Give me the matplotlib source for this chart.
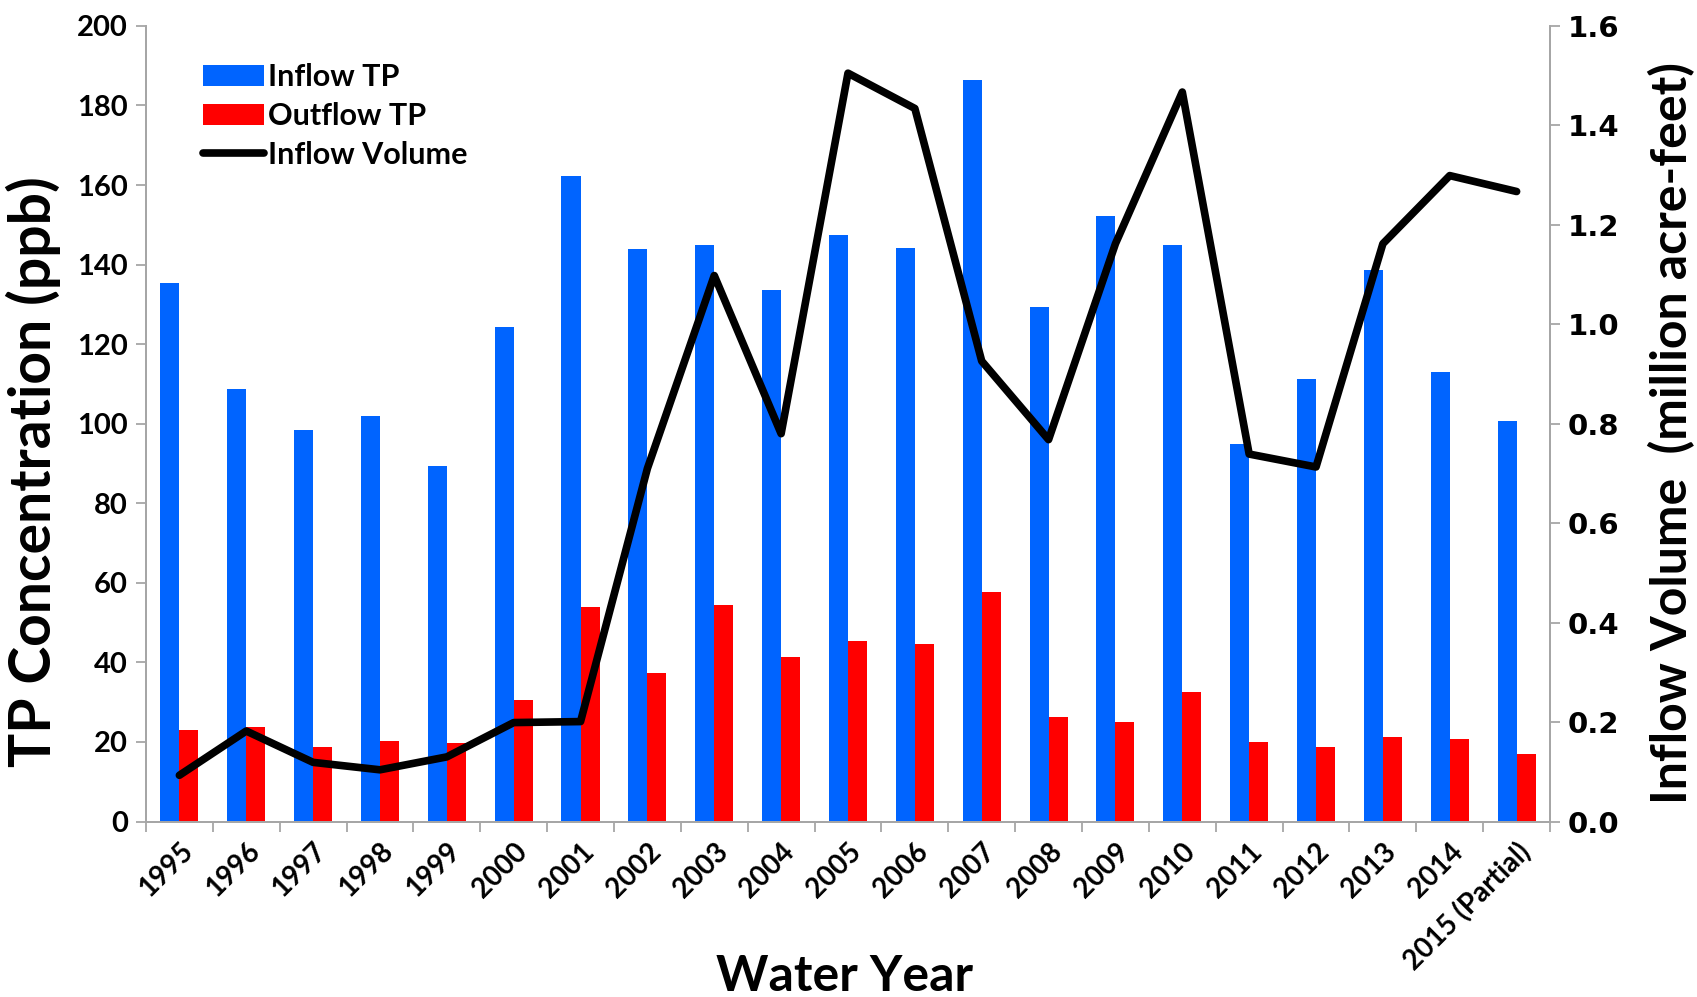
import matplotlib.pyplot as plt
import numpy as np

years = ['1995', '1996', '1997', '1998', '1999', '2000', '2001', '2002', '2003',
         '2004', '2005', '2006', '2007', '2008', '2009', '2010', '2011', '2012',
         '2013', '2014', '2015 (Partial)']
inflow_tp = [135.5, 108.7, 98.3, 101.9, 89.4, 124.2, 162.2, 143.9, 145.0, 133.5,
             147.5, 144.2, 186.3, 129.4, 152.1, 145.0, 94.8, 111.3, 138.6, 113.0, 100.8]
outflow_tp = [23.1, 23.7, 18.8, 20.2, 19.8, 30.6, 53.9, 37.3, 54.5, 41.4,
              45.3, 44.6, 57.8, 26.2, 25.1, 32.6, 19.9, 18.7, 21.2, 20.8, 17.0]
inflow_volume = [0.093, 0.182, 0.119, 0.104, 0.130, 0.199, 0.201, 0.710, 1.098, 0.780,
                 1.505, 1.434, 0.926, 0.768, 1.162, 1.467, 0.739, 0.713, 1.162, 1.299, 1.267]

font = 'Lato'
grey = '#A6A6A6'
blue = '#0064FF'
red = '#FF0000'

fig = plt.figure(figsize=(16.97, 9.97), dpi=100)
ax = fig.add_axes([0.086, 0.176, 0.8274, 0.798])
ax2 = ax.twinx()

x = np.arange(len(years))
w = 0.285
b1 = ax.bar(x - w / 2, inflow_tp, w, color=blue, label='Inflow TP', zorder=2)
b2 = ax.bar(x + w / 2, outflow_tp, w, color=red, label='Outflow TP', zorder=2)
ln, = ax2.plot(x, inflow_volume, color='black', lw=5.5, solid_joinstyle='round',
               solid_capstyle='round', label='Inflow Volume')

# left axis
ax.set_xlim(-0.5, len(years) - 0.5)
ax.set_ylim(0, 200)
ax.set_yticks(np.arange(0, 201, 20))
ax.set_yticklabels([str(v) for v in range(0, 201, 20)], fontfamily=font,
                   fontweight='bold', fontsize=21)
ax.tick_params(axis='y', direction='out', length=7, width=1.3, color=grey, pad=6)

# x axis: ticks between groups, labels at group centres
ax.set_xticks(x)
ax.set_xticklabels(years, rotation=45, ha='right', va='top', rotation_mode='anchor',
                   fontfamily=font, fontweight='bold', fontsize=20)
ax.tick_params(axis='x', which='major', length=0, pad=12)
ax.set_xticks(np.arange(-0.5, len(years), 1), minor=True)
ax.tick_params(axis='x', which='minor', direction='out', length=7, width=1.3, color=grey)

for s in ['left', 'bottom', 'right']:
    ax.spines[s].set_color(grey)
    ax.spines[s].set_linewidth(1.3)
    ax2.spines[s].set_color(grey)
    ax2.spines[s].set_linewidth(1.3)
ax.spines['top'].set_visible(False)
ax2.spines['top'].set_visible(False)

# right axis
ax2.set_ylim(0, 1.6)
ax2.set_yticks(np.arange(0, 1.61, 0.2))
ax2.set_yticklabels(['%.1f' % v for v in np.arange(0, 1.61, 0.2)],
                    fontfamily='DejaVu Sans', fontweight='bold', fontsize=21)
ax2.tick_params(axis='y', direction='out', length=7, width=1.3, color=grey, pad=6)

# axis titles placed where the original has them
fig.text(0.0197, 0.5266, 'TP Concentration (ppb)', rotation=90, ha='center',
         va='center', fontfamily=font, fontweight='bold', fontsize=41)
fig.text(0.9853, 0.5657, 'Inflow Volume  (million acre-feet)', rotation=90,
         ha='center', va='center', fontfamily=font, fontweight='bold', fontsize=36)
fig.text(0.4974, 0.006, 'Water Year', ha='center', va='baseline',
         fontfamily=font, fontweight='bold', fontsize=36)

ax2.legend(handles=[b1, b2, ln], loc='upper left',
           bbox_to_anchor=(0.1108, 0.952), bbox_transform=fig.transFigure,
           frameon=False, borderpad=0, handlelength=2.0, handleheight=0.7,
           handletextpad=0.12, labelspacing=0.36,
           prop={'family': font, 'weight': 'bold', 'size': 22})

fig.savefig('out.png', dpi=100)
